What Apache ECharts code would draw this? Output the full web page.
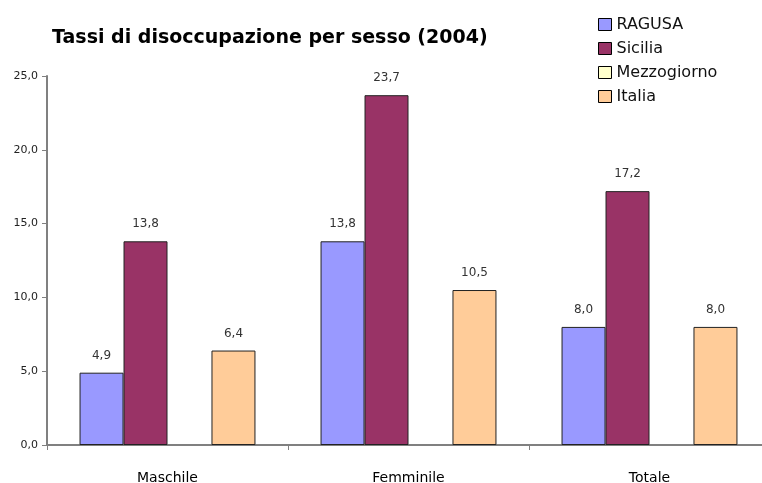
<!DOCTYPE html>
<html>
<head>
<meta charset="utf-8">
<script src="https://cdn.jsdelivr.net/npm/echarts@6/dist/echarts.min.js"></script>
<style>
  html, body { margin: 0; padding: 0; background: #fff; }
  #chart { width: 762px; height: 483px; }
</style>
</head>
<body>
<div id="chart"></div>
<script>
// Tassi di disoccupazione per sesso, anno 2004 (valori percentuali)
const categories = ['Maschile', 'Femminile', 'Totale'];
const seriesNames = ['RAGUSA', 'Sicilia', 'Mezzogiorno', 'Italia'];
const ragusa = [4.9, 13.8, 8.0];
const sicilia = [13.8, 23.7, 17.2];
const mezzogiorno = [null, null, null];
const italia = [6.4, 10.5, 8.0];
const yTicks = [0, 5, 10, 15, 20, 25];

const colors = ['#9999FF', '#993366', '#FFFFCC', '#FFCC99'];
const values = [ragusa, sicilia, mezzogiorno, italia];
const fontFamily = '"DejaVu Sans", "Liberation Sans", sans-serif';

const fmt = v => Number(v).toFixed(1).replace('.', ',');

const chart = echarts.init(document.getElementById('chart'), null, { renderer: 'canvas' });

chart.setOption({
  backgroundColor: '#ffffff',
  animation: false,
  title: {
    text: 'Tassi di disoccupazione per sesso (2004)',
    left: 47,
    top: 24,
    textStyle: { fontFamily, fontSize: 19, fontWeight: 'bold', color: '#000' }
  },
  legend: {
    orient: 'vertical',
    left: 593,
    top: 10,
    itemWidth: 13,
    itemHeight: 12,
    itemGap: 5,
    icon: 'rect',
    data: seriesNames,
    itemStyle: { borderColor: '#000', borderWidth: 1 },
    textStyle: { fontFamily, fontSize: 16, color: '#111', lineHeight: 19 }
  },
  grid: {
    left: 47,
    top: 76,
    width: 723,
    height: 369,
    containLabel: false,
    outerBoundsMode: 'none'
  },
  xAxis: {
    type: 'category',
    data: categories,
    axisLine: { lineStyle: { color: '#808080', width: 2 } },
    axisTick: { show: true, alignWithLabel: false, length: 5, lineStyle: { color: '#808080', width: 1 } },
    axisLabel: { margin: 26, fontFamily, fontSize: 14, color: '#000' },
    splitLine: { show: false }
  },
  yAxis: {
    type: 'value',
    min: yTicks[0],
    max: yTicks[yTicks.length - 1],
    interval: yTicks[1] - yTicks[0],
    axisLine: { show: true, lineStyle: { color: '#808080', width: 2 } },
    axisTick: { show: true, length: 5, lineStyle: { color: '#808080', width: 1 } },
    axisLabel: { margin: 9, fontFamily, fontSize: 11, color: '#222', formatter: fmt },
    splitLine: { show: false }
  },
  series: seriesNames.map((name, i) => ({
    name,
    type: 'bar',
    data: values[i],
    barGap: '0%',
    barCategoryGap: '27%',
    itemStyle: { color: colors[i], borderColor: '#222', borderWidth: 1 },
    label: {
      show: true,
      position: 'top',
      distance: 11,
      fontFamily,
      fontSize: 12,
      color: '#333',
      formatter: p => fmt(p.value)
    }
  }))
});
</script>
</body>
</html>
